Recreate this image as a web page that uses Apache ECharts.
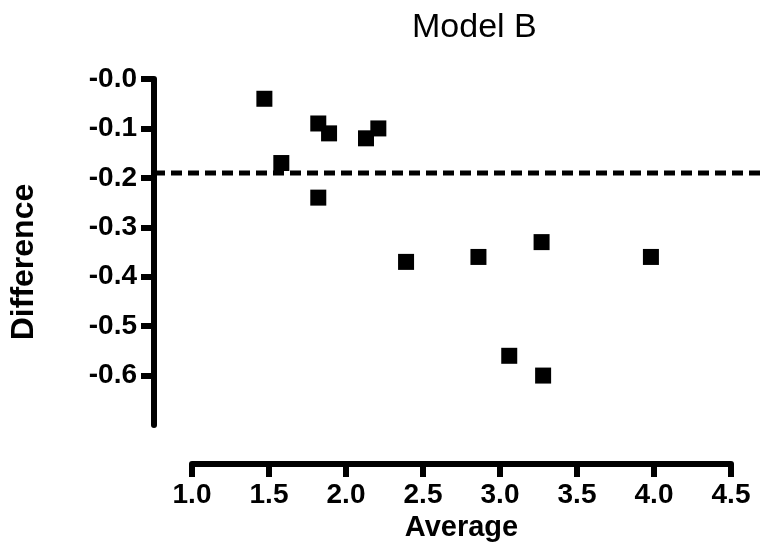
<!DOCTYPE html>
<html>
<head>
<meta charset="utf-8">
<script src="https://cdn.jsdelivr.net/npm/echarts@6/dist/echarts.min.js"></script>
<style>html,body{margin:0;padding:0;background:#fff}#c{width:764px;height:552px}</style>
</head>
<body>
<div id="c"></div>
<script>
var titleText = 'Model B';
var xName = 'Average';
var yName = 'Difference';
var averages = [1.47, 1.82, 1.89, 2.21, 2.13, 1.58, 1.82, 2.39, 2.86, 3.27, 3.98, 3.06, 3.28];
var differences = [-0.04, -0.09, -0.11, -0.10, -0.12, -0.17, -0.24, -0.37, -0.36, -0.33, -0.36, -0.56, -0.60];
var bias = -0.19;
var xTicks = [1.0, 1.5, 2.0, 2.5, 3.0, 3.5, 4.0, 4.5];
var yTicks = [0, -0.1, -0.2, -0.3, -0.4, -0.5, -0.6];

var FONT = 'Liberation Sans, Arial, Helvetica, sans-serif';
var chart = echarts.init(document.getElementById('c'), null, {renderer: 'canvas'});
var pts = averages.map(function (a, i) { return [a, differences[i]]; });
var axisLineStyle = {color: '#000', width: 6};

chart.setOption({
  animation: false,
  backgroundColor: '#fff',
  title: {
    text: titleText, left: 407, top: 6,
    textStyle: {fontFamily: FONT, fontSize: 34, fontWeight: 'normal', color: '#000'}
  },
  grid: [
    {left: 192, right: 33, top: 79, bottom: 127, containLabel: false, outerBoundsMode: 'none'},
    {left: 154, right: 0, top: 79, bottom: 127, containLabel: false, outerBoundsMode: 'none'}
  ],
  xAxis: [
    {
      gridIndex: 0, type: 'value', min: 1.0, max: 4.5, interval: 0.5,
      offset: 39,
      name: xName, nameLocation: 'middle', nameGap: 44,
      nameTextStyle: {fontFamily: FONT, fontSize: 29, fontWeight: 'bold', color: '#000'},
      axisLine: {show: true, onZero: false, lineStyle: axisLineStyle},
      axisTick: {show: true, length: 13, lineStyle: {color: '#000', width: 6}},
      axisLabel: {
        margin: 17, fontFamily: FONT, fontSize: 28, fontWeight: 'bold', color: '#000',
        customValues: xTicks,
        formatter: function (v) { return v.toFixed(1); }
      },
      splitLine: {show: false}
    },
    {
      gridIndex: 1, type: 'value', min: 0, max: 1, show: false
    }
  ],
  yAxis: [
    {
      gridIndex: 0, type: 'value', min: -0.7, max: 0, show: false
    },
    {
      gridIndex: 1, type: 'value', min: -0.7, max: 0, interval: 0.1,
      name: yName, nameLocation: 'middle', nameGap: 114, nameRotate: 90,
      nameTextStyle: {fontFamily: FONT, fontSize: 32, fontWeight: 'bold', color: '#000', padding: [0, 20, 0, 0]},
      axisLine: {show: true, onZero: false, lineStyle: axisLineStyle},
      axisTick: {show: true, length: 13, customValues: yTicks, lineStyle: {color: '#000', width: 6}},
      axisLabel: {
        margin: 17, fontFamily: FONT, fontSize: 28, fontWeight: 'bold', color: '#000',
        customValues: yTicks,
        formatter: function (v) { return '-' + Math.abs(v).toFixed(1); }
      },
      splitLine: {show: false}
    }
  ],
  series: [
    {
      type: 'line', xAxisIndex: 1, yAxisIndex: 1,
      data: [[0, bias], [1, bias]],
      symbol: 'none', silent: true,
      lineStyle: {color: '#000', width: 5, type: [11, 6]}
    },
    {
      type: 'scatter', xAxisIndex: 0, yAxisIndex: 0,
      data: pts, symbol: 'rect', symbolSize: 16,
      itemStyle: {color: '#000', opacity: 1}
    }
  ]
});
</script>
</body>
</html>
